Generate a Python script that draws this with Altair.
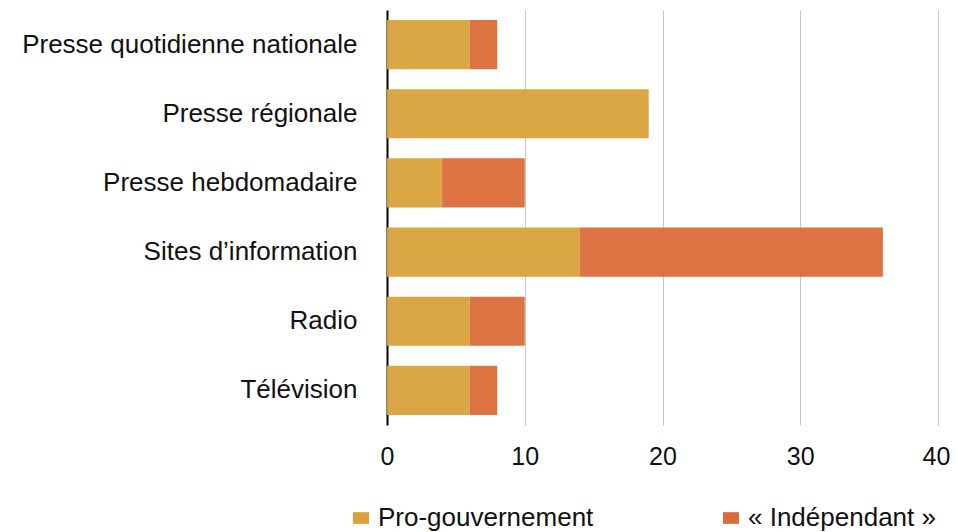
import altair as alt
import pandas as pd

categories = ["Presse quotidienne nationale", "Presse régionale", "Presse hebdomadaire",
              "Sites d\u2019information", "Radio", "Télévision"]
pro_gouv = [6, 19, 4, 14, 6, 6]
independant = [2, 0, 6, 22, 4, 2]
series = ["Pro-gouvernement", "« Indépendant »"]
colors = ["#D9A23A", "#DB6B38"]

rows = []
for c, a, b in zip(categories, pro_gouv, independant):
    rows.append({"cat": c, "serie": series[0], "val": a, "ord": 0})
    rows.append({"cat": c, "serie": series[1], "val": b, "ord": 1})
df = pd.DataFrame(rows)

font = "Liberation Sans"

chart = alt.Chart(df).mark_bar(opacity=0.95).encode(
    y=alt.Y("cat:N", sort=categories, title=None,
            scale=alt.Scale(paddingInner=0.29, paddingOuter=0.145),
            axis=alt.Axis(domainColor="#000000", domainWidth=2, ticks=False,
                          labelFontSize=26, labelColor="#111111", labelPadding=30,
                          labelFont=font, labelLimit=400, grid=False)),
    x=alt.X("val:Q", stack="zero", title=None,
            scale=alt.Scale(domain=[0, 40], nice=False),
            axis=alt.Axis(values=[0, 10, 20, 30, 40], domain=False, ticks=False,
                          grid=True, gridColor="#c6c6c6", gridWidth=1,
                          labelFontSize=25, labelColor="#111111", labelPadding=19,
                          labelFlush=False, labelFont=font,
                          labelOffset=alt.condition("datum.value == 40",
                                                    alt.value(-2), alt.value(0)))),
    color=alt.Color("serie:N", sort=series,
                    scale=alt.Scale(domain=series, range=colors),
                    legend=alt.Legend(title=None, orient="none", direction="horizontal",
                                      legendX=-39, legendY=495,
                                      symbolType="M-1,-0.73L1,-0.73L1,0.73L-1,0.73Z",
                                      symbolSize=256,
                                      symbolStrokeWidth=0, symbolOpacity=1,
                                      labelFontSize=26, labelFont=font,
                                      labelColor="#111111", labelOffset=4,
                                      columnPadding=124, labelLimit=400)),
    order=alt.Order("ord:Q"),
).properties(
    width=551, height=415,
    autosize=alt.AutoSizeParams(type="none"),
    padding={"left": 379, "top": 2, "right": 12, "bottom": 107},
).configure_view(stroke=None).configure_axisY(zindex=1)

chart.save("out.html", embed_options={"renderer": "svg", "actions": False})
